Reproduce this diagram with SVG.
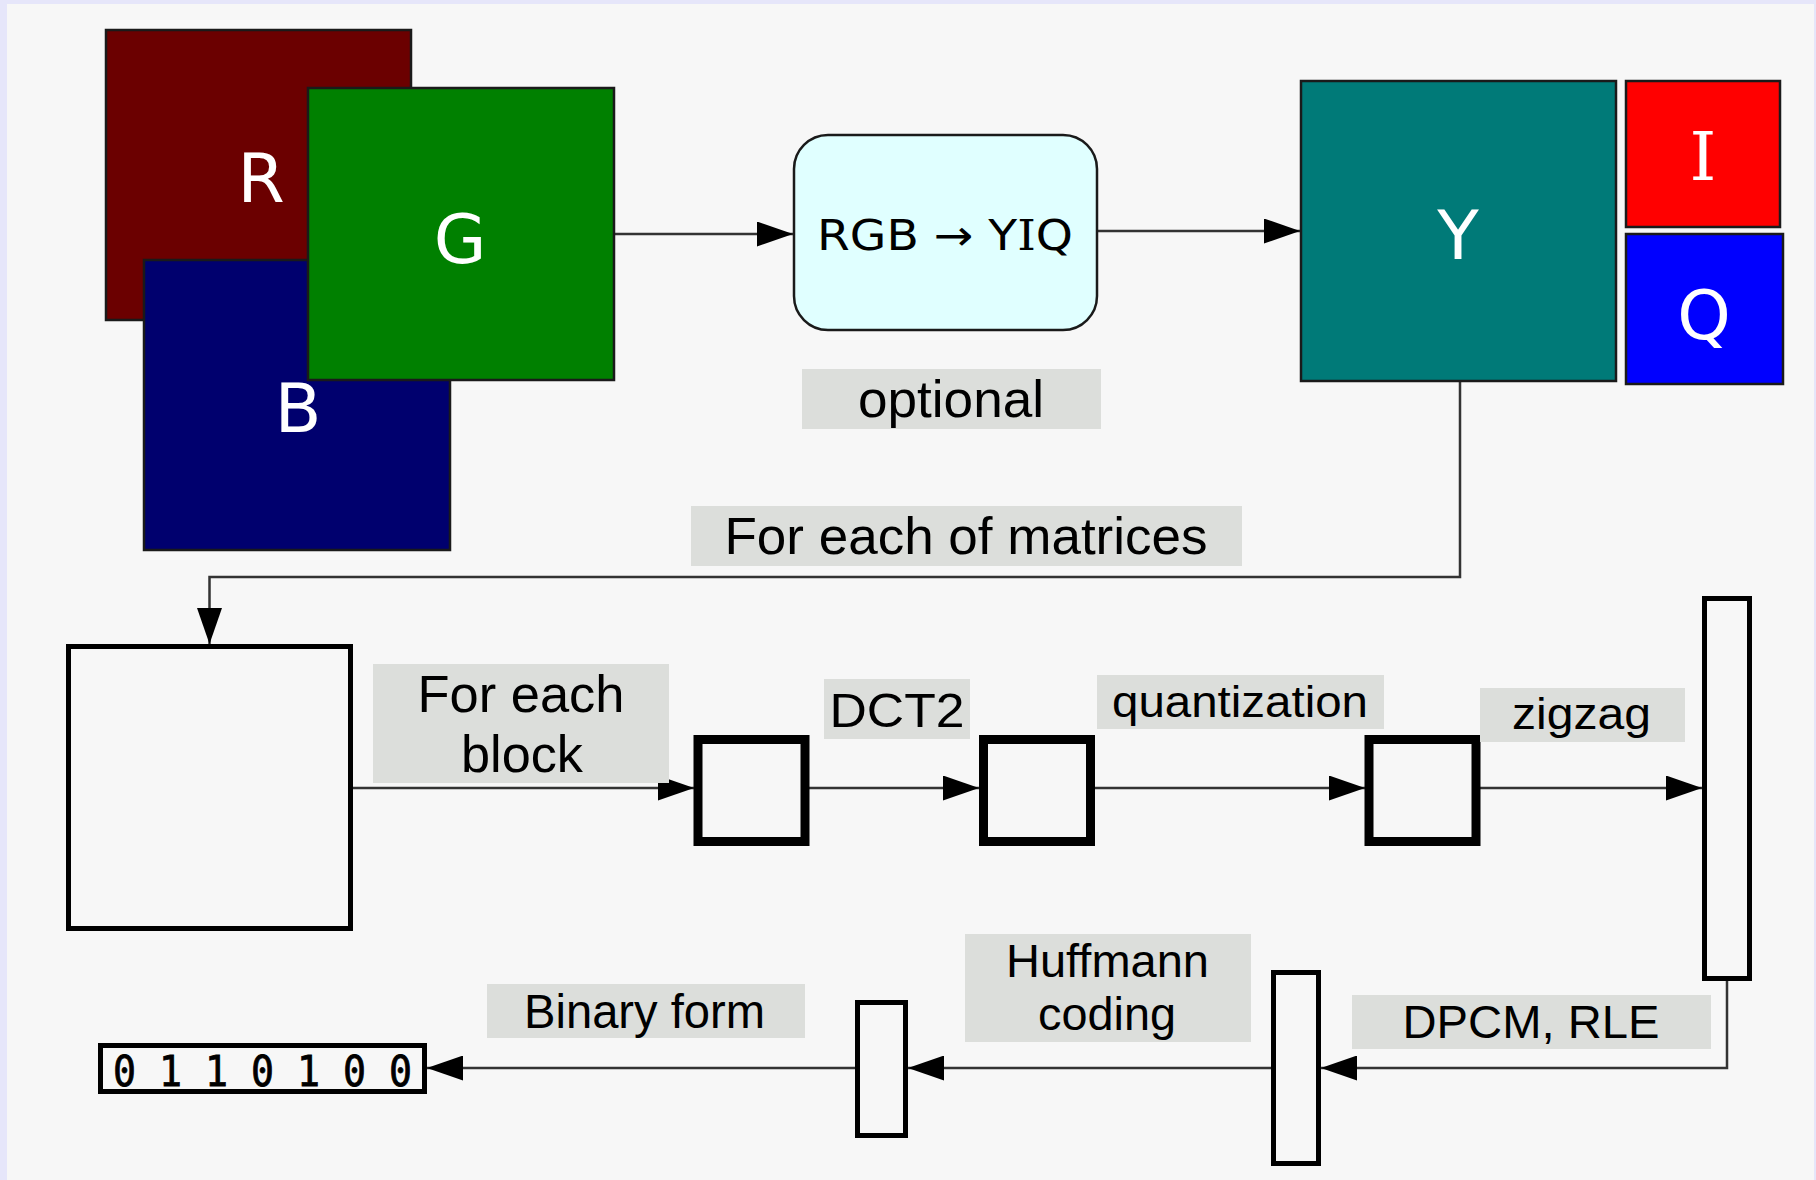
<svg xmlns="http://www.w3.org/2000/svg" width="1816" height="1180" viewBox="0 0 1816 1180">
  <style>
    .plane { stroke: #1a1a1a; stroke-width: 2.5; }
    .plabel { font-family: "DejaVu Sans", Verdana, sans-serif; font-size: 68px; fill: #ffffff; text-anchor: middle; }
    .serifI { font-family: "DejaVu Serif", "Liberation Serif", serif; }
    .lbl { fill: #dcdedb; }
    .lt { font-family: "Liberation Sans", Arial, sans-serif; fill: #000; text-anchor: middle; }
    .conn { fill: none; stroke: #333; stroke-width: 2.5; }
    .blk { fill: none; stroke: #000; }
  </style>
  <defs>
    <marker id="arr" markerUnits="userSpaceOnUse" markerWidth="36" markerHeight="25" refX="36" refY="12.5" orient="auto">
      <path d="M0,0 L36,12.5 L0,25 z" fill="#000"/>
    </marker>
  </defs>
  <rect x="0" y="0" width="1816" height="1180" fill="#e6e6fa"/>
  <rect x="7" y="4" width="1807" height="1176" fill="#f7f7f7"/>

  <g id="connectors">
    <path class="conn" d="M613,234 H793" marker-end="url(#arr)"/>
    <path class="conn" d="M1097,231 H1300" marker-end="url(#arr)"/>
    <path class="conn" d="M1460,381 V577 H209.5 V644" marker-end="url(#arr)"/>
    <path class="conn" d="M353,788 H694" marker-end="url(#arr)"/>
    <path class="conn" d="M809,788 H979" marker-end="url(#arr)"/>
    <path class="conn" d="M1095,788 H1365" marker-end="url(#arr)"/>
    <path class="conn" d="M1480,788 H1702" marker-end="url(#arr)"/>
    <path class="conn" d="M1727,981 V1068 H1321" marker-end="url(#arr)"/>
    <path class="conn" d="M1271,1068 H908" marker-end="url(#arr)"/>
    <path class="conn" d="M855,1068 H427" marker-end="url(#arr)"/>
  </g>

  <g id="node-R">
    <rect class="plane" x="106" y="30" width="305" height="290" fill="#6b0000"/>
    <text class="plabel" x="261" y="202">R</text>
  </g>
  <g id="node-B">
    <rect class="plane" x="144" y="260" width="306" height="290" fill="#00006e"/>
    <text class="plabel" x="298" y="432">B</text>
  </g>
  <g id="node-G">
    <rect class="plane" x="308" y="88" width="306" height="292" fill="#008000"/>
    <text class="plabel" x="460" y="263">G</text>
  </g>

  <g id="node-rgb2yiq">
    <rect x="794" y="135" width="303" height="195" rx="34" ry="34" fill="#e0ffff" stroke="#1a1a1a" stroke-width="2.5"/>
    <text x="945" y="250" style="font-family:'DejaVu Sans', Verdana, sans-serif; font-size:42px" text-anchor="middle" textLength="256" lengthAdjust="spacingAndGlyphs" fill="#000">RGB → Y<tspan class="serifI">I</tspan>Q</text>
  </g>
  <g id="label-optional">
    <rect class="lbl" x="802" y="369" width="299" height="60"/>
    <text class="lt" x="951" y="417" font-size="52" textLength="186" lengthAdjust="spacingAndGlyphs">optional</text>
  </g>

  <g id="node-Y">
    <rect class="plane" x="1301" y="81" width="315" height="300" fill="#007a78"/>
    <text class="plabel" x="1458" y="259">Y</text>
  </g>
  <g id="node-I">
    <rect class="plane" x="1626" y="81" width="154" height="146" fill="#ff0000"/>
    <text class="plabel serifI" x="1703" y="180" style="font-family:'DejaVu Serif', 'Liberation Serif', serif; font-weight:normal">I</text>
  </g>
  <g id="node-Q">
    <rect class="plane" x="1626" y="234" width="157" height="150" fill="#0000ff"/>
    <text class="plabel" x="1704" y="339">Q</text>
  </g>

  <g id="label-matrices">
    <rect class="lbl" x="691" y="506" width="551" height="60"/>
    <text class="lt" x="966" y="554" font-size="52" textLength="483" lengthAdjust="spacingAndGlyphs">For each of matrices</text>
  </g>

  <g id="node-image">
    <rect class="blk" x="68.5" y="646.5" width="282" height="282" stroke-width="5"/>
  </g>
  <g id="label-foreach">
    <rect class="lbl" x="373" y="664" width="296" height="119"/>
    <text class="lt" x="521" y="712" font-size="52" textLength="207" lengthAdjust="spacingAndGlyphs">For each</text>
    <text class="lt" x="522" y="772" font-size="52" textLength="122" lengthAdjust="spacingAndGlyphs">block</text>
  </g>

  <g id="node-block1">
    <rect class="blk" x="698" y="739.5" width="107" height="102" stroke-width="9"/>
  </g>
  <g id="label-dct2">
    <rect class="lbl" x="824" y="679" width="146" height="60"/>
    <text class="lt" x="897" y="727" font-size="49" textLength="135" lengthAdjust="spacingAndGlyphs">DCT2</text>
  </g>
  <g id="node-block2">
    <rect class="blk" x="983.5" y="739.5" width="107" height="102" stroke-width="9"/>
  </g>
  <g id="label-quant">
    <rect class="lbl" x="1097" y="675" width="287" height="54"/>
    <text class="lt" x="1240" y="717" font-size="44" textLength="256" lengthAdjust="spacingAndGlyphs">quantization</text>
  </g>
  <g id="node-block3">
    <rect class="blk" x="1369" y="739.5" width="107" height="102" stroke-width="9"/>
  </g>
  <g id="label-zigzag">
    <rect class="lbl" x="1480" y="688" width="205" height="54"/>
    <text class="lt" x="1581.5" y="729" font-size="44" textLength="139" lengthAdjust="spacingAndGlyphs">zigzag</text>
  </g>

  <g id="node-vector">
    <rect class="blk" x="1704.5" y="598.5" width="45" height="380" stroke-width="5"/>
  </g>
  <g id="label-dpcm">
    <rect class="lbl" x="1352" y="995" width="359" height="54"/>
    <text class="lt" x="1531" y="1038" font-size="47" textLength="257" lengthAdjust="spacingAndGlyphs">DPCM, RLE</text>
  </g>
  <g id="node-bar2">
    <rect class="blk" x="1273.5" y="972.5" width="45" height="191" stroke-width="5"/>
  </g>
  <g id="label-huffman">
    <rect class="lbl" x="965" y="934" width="286" height="108"/>
    <text class="lt" x="1107.5" y="977" font-size="47" textLength="203" lengthAdjust="spacingAndGlyphs">Huffmann</text>
    <text class="lt" x="1107" y="1030" font-size="47" textLength="138" lengthAdjust="spacingAndGlyphs">coding</text>
  </g>
  <g id="node-bar3">
    <rect class="blk" x="857.5" y="1002.5" width="48" height="133" stroke-width="5"/>
  </g>
  <g id="label-binary">
    <rect class="lbl" x="487" y="984" width="318" height="54"/>
    <text class="lt" x="644.5" y="1028" font-size="48" textLength="241" lengthAdjust="spacingAndGlyphs">Binary form</text>
  </g>
  <g id="node-binary">
    <rect class="blk" x="100.5" y="1045.5" width="324" height="46" stroke-width="5"/>
    <text x="262.5" y="1086" font-family="DejaVu Sans Mono, monospace" font-size="42" text-anchor="middle" textLength="299" lengthAdjust="spacingAndGlyphs" fill="#000" stroke="#000" stroke-width="0.8">0 1 1 0 1 0 0</text>
  </g>
</svg>
